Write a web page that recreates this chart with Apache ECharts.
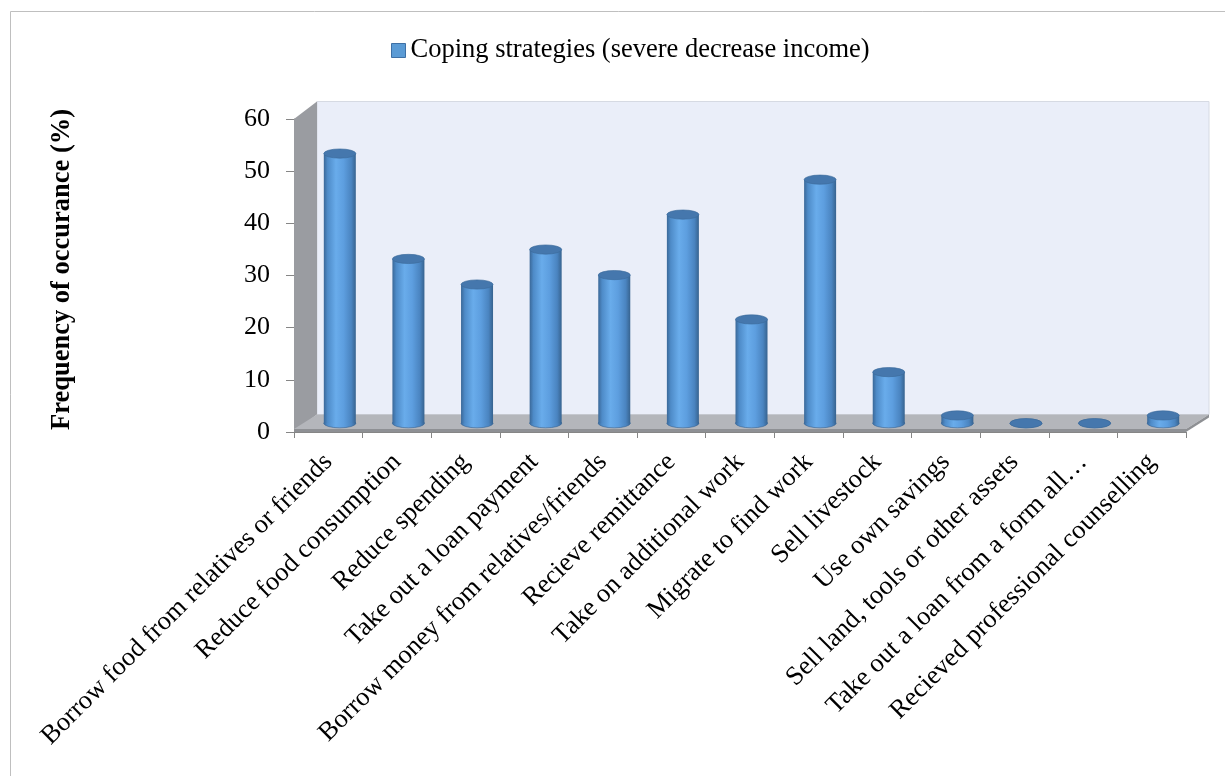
<!DOCTYPE html>
<html>
<head>
<meta charset="utf-8">
<script src="https://cdn.jsdelivr.net/npm/echarts@6/dist/echarts.min.js"></script>
<style>
  html, body { margin: 0; padding: 0; background: #ffffff; }
  #chart { width: 1225px; height: 776px; }
</style>
</head>
<body>
<div id="chart"></div>
<script>
// Coping strategies reported after a severe decrease in income
const categories = [
  'Borrow food from relatives or friends',
  'Reduce food consumption',
  'Reduce spending',
  'Take out a loan payment',
  'Borrow money from relatives/friends',
  'Recieve remittance',
  'Take on additional work',
  'Migrate to find work',
  'Sell livestock',
  'Use own savings',
  'Sell land, tools or other assets',
  'Take out a loan from a form all\u2026',
  'Recieved professional counselling'
];
const frequency = [51.7, 31.5, 26.6, 33.3, 28.4, 40.0, 19.9, 46.7, 9.8, 1.5, 0, 0, 1.5];
const yMin = 0;
const yMax = 60;
const yStep = 10;
const seriesName = 'Coping strategies (severe decrease income)';
const axisTitle = 'Frequency of occurance (%)';

// 3D look: depth offset of the back wall, cylinder radii
const DEPTH_X = 23;
const DEPTH_Y = -17.5;
const CYL_RX = 16;
const CYL_RY = 4.6;
const SERIF = '"Liberation Serif", "Times New Roman", serif';

const chart = echarts.init(document.getElementById('chart'));

function cylinderGradient() {
  return new echarts.graphic.LinearGradient(0, 0, 1, 0, [
    { offset: 0, color: '#3A6898' },
    { offset: 0.12, color: '#4E8BC8' },
    { offset: 0.38, color: '#69ACEB' },
    { offset: 0.62, color: '#5D9EDF' },
    { offset: 0.86, color: '#4A84C0' },
    { offset: 1, color: '#37638F' }
  ]);
}

// walls and floor of the 3D box
function renderFrame(params, api) {
  const cs = params.coordSys;
  const x0 = cs.x, x1 = cs.x + cs.width;
  const yT = cs.y, yB = cs.y + cs.height;
  const dx = DEPTH_X, dy = DEPTH_Y;
  const slab = 3;
  return {
    type: 'group',
    silent: true,
    children: [
      { type: 'polygon',
        shape: { points: [[x0 + dx, yT + dy], [x1 + dx, yT + dy], [x1 + dx, yB + dy], [x0 + dx, yB + dy]] },
        style: { fill: '#EAEEF9', stroke: '#D6DAE3', lineWidth: 1 } },
      { type: 'polygon',
        shape: { points: [[x0, yT], [x0 + dx, yT + dy], [x0 + dx, yB + dy], [x0, yB]] },
        style: { fill: '#9A9CA1' } },
      { type: 'polygon',
        shape: { points: [[x0, yB - slab], [x0 + dx, yB + dy], [x1 + dx, yB + dy], [x1, yB - slab]] },
        style: { fill: '#B4B6BB' } },
      { type: 'polygon',
        shape: { points: [[x0, yB - slab], [x1, yB - slab], [x1, yB], [x0, yB]] },
        style: { fill: '#8E9094' } },
      { type: 'polygon',
        shape: { points: [[x1, yB - slab], [x1 + dx, yB + dy], [x1 + dx, yB + dy + slab], [x1, yB]] },
        style: { fill: '#8E9094' } }
    ]
  };
}

// one cylinder per category, standing at mid depth
function renderCylinder(params, api) {
  const i = api.value(0);
  const v = api.value(1);
  const base = api.coord([i, 0]);
  const top = api.coord([i, v]);
  const cx = base[0] + DEPTH_X / 2;
  const by = base[1] + DEPTH_Y / 2;
  const ty = top[1] + DEPTH_Y / 2;
  const sy = CYL_RY / CYL_RX;
  return {
    type: 'group',
    children: [
      { type: 'circle', x: cx, y: by, scaleY: sy,
        shape: { cx: 0, cy: 0, r: CYL_RX },
        style: { fill: cylinderGradient(), stroke: '#3A6898', lineWidth: 1, strokeNoScale: true } },
      { type: 'rect',
        shape: { x: cx - CYL_RX, y: ty, width: CYL_RX * 2, height: Math.max(by - ty, 0) },
        style: { fill: cylinderGradient() } },
      { type: 'circle', x: cx, y: ty, scaleY: sy,
        shape: { cx: 0, cy: 0, r: CYL_RX },
        style: { fill: '#4577AD', stroke: '#3B6A9B', lineWidth: 1, strokeNoScale: true } }
    ]
  };
}

chart.setOption({
  animation: false,
  backgroundColor: '#ffffff',
  graphic: [
    { type: 'rect', silent: true, z: -10,
      shape: { x: 10.5, y: 11.5, width: 1400, height: 900 },
      style: { fill: 'none', stroke: '#BFBFBF', lineWidth: 1 } }
  ],
  legend: {
    data: [{ name: seriesName, icon: 'rect' }],
    left: 391,
    top: 37,
    padding: 0,
    itemWidth: 14,
    itemHeight: 14,
    textStyle: { fontFamily: SERIF, fontSize: 26.5, color: '#000000' },
    itemStyle: { color: '#5B9BD5', borderColor: '#3E70A5', borderWidth: 1 }
  },
  grid: { left: 294, right: 39, top: 119, bottom: 344, outerBoundsMode: 'none' },
  xAxis: {
    type: 'category',
    data: categories,
    boundaryGap: true,
    axisLine: { show: true, lineStyle: { color: '#868686', width: 1 } },
    axisTick: { show: true, length: 6, lineStyle: { color: '#868686' } },
    axisLabel: {
      interval: 0, rotate: 45, margin: 26,
      fontFamily: SERIF, fontSize: 26.5, color: '#000000'
    },
    splitLine: { show: false }
  },
  yAxis: {
    type: 'value',
    min: yMin, max: yMax, interval: yStep,
    name: axisTitle,
    nameLocation: 'middle',
    nameRotate: 90,
    nameGap: 218,
    nameTextStyle: {
      fontFamily: SERIF, fontSize: 26.5, fontWeight: 'bold', color: '#000000',
      padding: [0, 0, 0, 12]
    },
    axisLine: { show: true, lineStyle: { color: '#868686', width: 1 } },
    axisTick: { show: true, length: 8, lineStyle: { color: '#868686' } },
    axisLabel: { margin: 24, fontFamily: SERIF, fontSize: 26, color: '#000000' },
    splitLine: { show: false }
  },
  series: [
    {
      name: 'frame',
      type: 'custom',
      silent: true,
      z: 1,
      renderItem: renderFrame,
      data: [[0, 0]],
      encode: { x: 0, y: 1 }
    },
    {
      name: seriesName,
      type: 'custom',
      z: 3,
      itemStyle: { color: '#5B9BD5' },
      renderItem: renderCylinder,
      data: frequency.map((v, i) => [i, v]),
      encode: { x: 0, y: 1 }
    }
  ]
});
</script>
</body>
</html>
